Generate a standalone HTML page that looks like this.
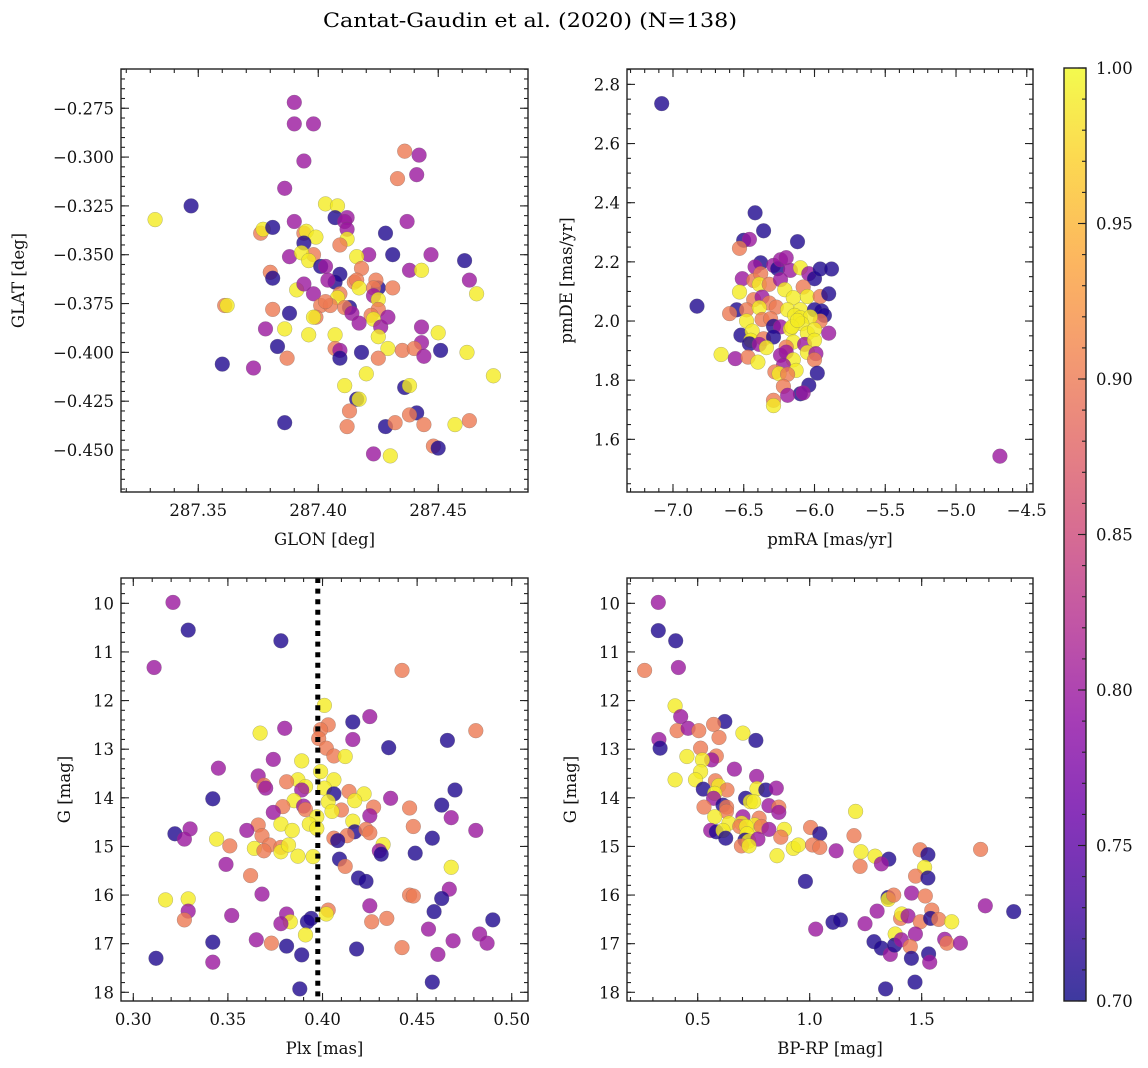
<!DOCTYPE html>
<html><head><meta charset="utf-8"><style>
html,body{margin:0;padding:0;background:#fff;}
svg{display:block;font-family:"DejaVu Serif","Liberation Serif",serif;}
</style></head><body>
<svg id="fig" width="1148" height="1068" viewBox="0 0 1148 1068" xmlns="http://www.w3.org/2000/svg">
<defs>
<linearGradient id="cbgrad" x1="0" y1="1" x2="0" y2="0">
<stop offset="0" stop-color="#0d0887"/><stop offset="0.1" stop-color="#41049d"/><stop offset="0.2" stop-color="#6a00a8"/><stop offset="0.3" stop-color="#8f0da4"/><stop offset="0.4" stop-color="#b12a90"/><stop offset="0.5" stop-color="#cc4778"/><stop offset="0.6" stop-color="#e16462"/><stop offset="0.7" stop-color="#f2844b"/><stop offset="0.8" stop-color="#fca636"/><stop offset="0.9" stop-color="#fcce25"/><stop offset="1" stop-color="#f0f921"/>
</linearGradient>
</defs>
<text x="530" y="27" text-anchor="middle" font-size="20" textLength="414" lengthAdjust="spacingAndGlyphs">Cantat-Gaudin et al. (2020) (N=138)</text>
</svg>
<script>
const P1_GLON=[287.390,287.390,287.398,287.394,287.436,287.442,287.441,287.433,287.386,287.347,287.332,287.403,287.408,287.407,287.412,287.411,287.437,287.390,287.376,287.377,287.381,287.394,287.395,287.399,287.412,287.412,287.409,287.394,287.428,287.431,287.421,287.416,287.447,287.388,287.398,287.393,287.396,287.401,287.403,287.409,287.407,287.404,287.418,287.438,287.443,287.461,287.463,287.466,287.380,287.381,287.391,287.394,287.398,287.415,287.416,287.417,287.425,287.424,287.431,287.423,287.409,287.408,287.361,287.362,287.381,287.388,287.401,287.405,287.403,287.413,287.411,287.414,287.423,287.425,287.425,287.422,287.423,287.426,287.429,287.399,287.398,287.417,287.378,287.386,287.396,287.407,287.425,287.443,287.450,287.443,287.383,287.407,287.409,287.429,287.435,287.440,287.451,287.462,287.387,287.409,287.418,287.425,287.444,287.360,287.373,287.420,287.473,287.411,287.436,287.438,287.416,287.417,287.413,287.441,287.438,287.386,287.412,287.428,287.432,287.444,287.457,287.463,287.448,287.450,287.423,287.430];
const P1_GLAT=[-0.272,-0.283,-0.283,-0.302,-0.297,-0.299,-0.309,-0.311,-0.316,-0.325,-0.332,-0.324,-0.325,-0.331,-0.331,-0.333,-0.333,-0.333,-0.339,-0.337,-0.336,-0.339,-0.338,-0.341,-0.337,-0.342,-0.345,-0.344,-0.339,-0.350,-0.350,-0.351,-0.350,-0.351,-0.350,-0.349,-0.353,-0.356,-0.356,-0.360,-0.364,-0.363,-0.357,-0.358,-0.358,-0.353,-0.363,-0.370,-0.359,-0.362,-0.368,-0.365,-0.370,-0.364,-0.363,-0.367,-0.367,-0.363,-0.367,-0.367,-0.370,-0.372,-0.376,-0.376,-0.378,-0.380,-0.376,-0.376,-0.374,-0.377,-0.377,-0.380,-0.371,-0.373,-0.378,-0.381,-0.383,-0.387,-0.382,-0.382,-0.382,-0.385,-0.388,-0.388,-0.391,-0.391,-0.392,-0.387,-0.390,-0.395,-0.397,-0.398,-0.399,-0.398,-0.399,-0.398,-0.399,-0.400,-0.403,-0.403,-0.400,-0.403,-0.402,-0.406,-0.408,-0.411,-0.412,-0.417,-0.418,-0.417,-0.424,-0.424,-0.430,-0.431,-0.432,-0.436,-0.438,-0.438,-0.436,-0.437,-0.437,-0.435,-0.448,-0.449,-0.452,-0.453];
const P1_PROB=[0.80,0.80,0.80,0.80,0.90,0.80,0.80,0.90,0.80,0.71,0.99,0.99,0.99,0.71,0.80,0.80,0.80,0.80,0.90,0.99,0.71,0.90,0.99,0.99,0.80,0.99,0.90,0.71,0.71,0.71,0.80,0.99,0.80,0.80,0.90,0.99,0.99,0.71,0.80,0.71,0.71,0.80,0.90,0.80,0.99,0.71,0.80,0.99,0.90,0.71,0.99,0.80,0.80,0.90,0.90,0.99,0.71,0.90,0.90,0.90,0.90,0.99,0.90,0.99,0.90,0.71,0.90,0.90,0.90,0.71,0.90,0.80,0.80,0.99,0.90,0.90,0.99,0.80,0.80,0.90,0.99,0.80,0.80,0.99,0.99,0.99,0.99,0.80,0.99,0.80,0.71,0.90,0.80,0.99,0.90,0.90,0.71,0.99,0.90,0.71,0.71,0.90,0.80,0.71,0.80,0.99,0.99,0.99,0.71,0.99,0.71,0.99,0.90,0.71,0.90,0.71,0.90,0.71,0.90,0.90,0.99,0.90,0.90,0.71,0.80,0.99];

const P2_PMRA=[-7.08,-6.83,-4.69,-6.42,-6.36,-6.50,-6.46,-6.53,-6.12,-6.38,-6.42,-6.29,-6.26,-6.24,-6.20,-6.17,-6.10,-6.04,-6.00,-5.96,-5.88,-6.51,-6.43,-6.38,-6.39,-6.32,-6.24,-6.53,-6.21,-6.08,-6.15,-6.05,-5.96,-5.90,-6.43,-6.37,-6.32,-6.55,-6.60,-6.48,-6.39,-6.27,-6.19,-6.10,-6.00,-5.95,-5.93,-5.96,-6.48,-6.37,-6.31,-6.14,-6.10,-6.03,-6.29,-6.24,-6.17,-6.09,-6.05,-6.00,-5.90,-6.52,-6.44,-6.45,-6.36,-6.29,-6.15,-6.07,-6.00,-6.46,-6.39,-6.34,-6.20,-6.66,-6.56,-6.47,-6.40,-6.24,-6.20,-6.05,-5.99,-6.00,-6.15,-6.22,-6.13,-6.28,-6.25,-6.19,-6.22,-5.98,-6.04,-6.10,-6.08,-6.29,-6.29,-6.19,-6.16,-6.12];
const P2_PMDE=[2.735,2.050,1.543,2.366,2.305,2.273,2.276,2.246,2.268,2.197,2.183,2.188,2.177,2.207,2.214,2.171,2.180,2.160,2.143,2.176,2.176,2.143,2.137,2.160,2.124,2.124,2.140,2.098,2.106,2.115,2.079,2.083,2.083,2.092,2.072,2.081,2.061,2.038,2.025,2.038,2.045,2.047,2.038,2.038,2.038,2.034,2.019,2.000,2.000,2.005,2.008,2.019,2.011,2.014,1.982,1.980,1.973,1.991,1.959,1.971,1.959,1.952,1.966,1.935,1.940,1.946,1.929,1.921,1.935,1.923,1.921,1.910,1.912,1.887,1.873,1.878,1.861,1.884,1.895,1.894,1.890,1.869,1.869,1.850,1.833,1.828,1.822,1.820,1.779,1.824,1.783,1.754,1.757,1.732,1.714,1.749,1.980,2.002];
const P2_PROB=[0.71,0.71,0.80,0.71,0.71,0.71,0.80,0.90,0.71,0.71,0.80,0.80,0.71,0.80,0.80,0.80,0.99,0.80,0.71,0.71,0.71,0.80,0.90,0.90,0.99,0.90,0.80,0.99,0.99,0.90,0.99,0.99,0.90,0.71,0.90,0.80,0.90,0.71,0.90,0.90,0.99,0.90,0.99,0.99,0.71,0.71,0.71,0.90,0.99,0.90,0.90,0.99,0.99,0.99,0.71,0.80,0.99,0.99,0.99,0.99,0.80,0.71,0.99,0.99,0.90,0.71,0.99,0.80,0.99,0.71,0.80,0.99,0.90,0.99,0.80,0.90,0.99,0.80,0.80,0.99,0.80,0.90,0.99,0.80,0.99,0.90,0.99,0.90,0.90,0.71,0.71,0.71,0.80,0.90,0.99,0.80,0.99,0.99];

const P3_PLX=[0.321,0.329,0.378,0.311,0.442,0.401,0.425,0.416,0.403,0.380,0.399,0.481,0.367,0.398,0.416,0.466,0.435,0.402,0.406,0.412,0.374,0.389,0.345,0.399,0.366,0.387,0.381,0.406,0.369,0.370,0.391,0.389,0.401,0.406,0.414,0.422,0.470,0.342,0.436,0.385,0.403,0.417,0.390,0.379,0.391,0.410,0.405,0.427,0.446,0.463,0.374,0.397,0.425,0.416,0.468,0.366,0.378,0.393,0.397,0.384,0.448,0.322,0.330,0.327,0.360,0.368,0.344,0.417,0.423,0.425,0.413,0.406,0.408,0.481,0.458,0.351,0.372,0.364,0.369,0.378,0.378,0.382,0.387,0.395,0.432,0.430,0.431,0.449,0.409,0.412,0.349,0.468,0.362,0.419,0.423,0.368,0.446,0.448,0.467,0.463,0.317,0.329,0.329,0.327,0.352,0.425,0.459,0.381,0.383,0.378,0.394,0.392,0.403,0.402,0.426,0.434,0.490,0.456,0.391,0.342,0.365,0.373,0.381,0.483,0.469,0.487,0.389,0.418,0.442,0.461,0.312,0.342,0.388,0.458];
const P3_G=[9.98,10.55,10.77,11.32,11.38,12.10,12.33,12.44,12.50,12.57,12.60,12.62,12.67,12.78,12.80,12.82,12.97,12.98,13.14,13.15,13.21,13.24,13.39,13.46,13.55,13.63,13.67,13.63,13.74,13.80,13.77,13.84,13.80,13.92,13.87,13.92,13.84,14.02,14.01,14.06,14.08,14.06,14.17,14.18,14.24,14.25,14.28,14.19,14.21,14.15,14.30,14.39,14.37,14.48,14.41,14.56,14.54,14.54,14.63,14.67,14.59,14.74,14.64,14.85,14.67,14.78,14.85,14.70,14.65,14.72,14.78,14.83,14.88,14.67,14.83,14.99,14.97,15.04,15.09,15.02,15.11,14.97,15.20,15.21,14.96,15.09,15.16,15.14,15.26,15.41,15.37,15.43,15.60,15.65,15.72,15.98,16.00,16.02,15.88,16.07,16.10,16.08,16.33,16.51,16.42,16.22,16.34,16.39,16.55,16.59,16.48,16.55,16.31,16.39,16.55,16.48,16.51,16.70,16.82,16.97,16.92,16.99,17.05,16.80,16.94,16.99,17.23,17.11,17.08,17.22,17.30,17.38,17.93,17.79];
const P3_PROB=[0.80,0.71,0.71,0.80,0.90,0.99,0.80,0.71,0.90,0.80,0.90,0.90,0.99,0.90,0.80,0.71,0.71,0.90,0.90,0.99,0.80,0.99,0.80,0.99,0.80,0.99,0.90,0.99,0.90,0.80,0.99,0.80,0.99,0.71,0.90,0.99,0.71,0.71,0.80,0.99,0.99,0.99,0.80,0.90,0.90,0.90,0.99,0.90,0.90,0.71,0.80,0.99,0.80,0.99,0.80,0.90,0.99,0.99,0.99,0.99,0.90,0.71,0.80,0.80,0.80,0.90,0.99,0.71,0.90,0.90,0.90,0.90,0.71,0.80,0.71,0.90,0.90,0.99,0.90,0.90,0.99,0.99,0.99,0.99,0.99,0.80,0.71,0.71,0.71,0.90,0.80,0.99,0.90,0.71,0.71,0.80,0.90,0.90,0.80,0.71,0.99,0.99,0.80,0.90,0.80,0.80,0.71,0.80,0.99,0.80,0.71,0.71,0.90,0.99,0.90,0.90,0.71,0.80,0.99,0.71,0.80,0.90,0.71,0.80,0.80,0.80,0.71,0.71,0.90,0.80,0.71,0.80,0.71,0.71];

const P4_BPRP=[0.324,0.324,0.402,0.263,0.414,0.399,0.424,0.621,0.408,0.457,0.505,0.571,0.595,0.702,0.760,0.327,0.332,0.513,0.452,0.583,0.562,0.521,0.513,0.664,0.399,0.490,0.579,0.594,0.763,0.525,0.631,0.576,0.571,0.765,0.804,0.851,0.714,0.735,0.750,0.613,0.629,0.628,0.528,0.818,0.862,0.862,1.205,0.576,0.702,0.774,0.640,0.696,0.688,0.754,0.784,0.818,0.887,0.558,0.583,0.613,0.625,0.717,0.720,0.711,0.728,0.769,0.871,0.695,0.729,1.004,1.045,0.927,0.949,1.013,1.045,0.854,1.118,1.198,1.229,1.225,1.292,1.353,1.320,0.981,1.493,1.528,1.513,1.473,1.528,1.763,1.784,1.911,1.350,1.351,1.375,1.455,1.516,1.301,1.104,1.137,1.247,1.027,1.406,1.411,1.439,1.494,1.545,1.540,1.576,1.634,1.287,1.320,1.360,1.382,1.379,1.409,1.472,1.449,1.454,1.531,1.536,1.603,1.613,1.673,1.339,1.470];
const P4_G=[9.98,10.56,10.77,11.38,11.32,12.11,12.33,12.43,12.62,12.57,12.62,12.49,12.76,12.67,12.82,12.80,12.98,12.98,13.15,13.14,13.22,13.22,13.46,13.41,13.63,13.63,13.65,13.75,13.56,13.82,13.84,13.91,14.01,13.81,13.84,13.80,14.01,14.08,14.08,14.15,14.19,14.28,14.19,14.16,14.19,14.30,14.28,14.39,14.39,14.42,14.52,14.52,14.59,14.56,14.59,14.65,14.65,14.67,14.70,14.67,14.83,14.59,14.74,14.87,14.89,14.85,14.81,14.99,14.99,14.61,14.74,15.04,14.97,14.97,15.02,15.19,15.09,14.78,15.11,15.41,15.20,15.26,15.36,15.72,15.07,15.17,15.43,15.61,15.65,15.06,16.22,16.34,16.05,16.09,16.00,15.96,16.02,16.33,16.56,16.51,16.59,16.70,16.48,16.39,16.43,16.55,16.31,16.48,16.50,16.55,16.96,17.09,17.22,16.80,17.03,16.92,16.80,17.06,17.30,17.21,17.38,16.91,16.99,16.99,17.93,17.79];
const P4_PROB=[0.80,0.71,0.71,0.90,0.80,0.99,0.80,0.71,0.90,0.80,0.90,0.90,0.90,0.99,0.71,0.80,0.71,0.90,0.99,0.90,0.80,0.99,0.99,0.80,0.99,0.99,0.90,0.99,0.80,0.71,0.90,0.99,0.80,0.99,0.71,0.80,0.71,0.99,0.99,0.71,0.90,0.90,0.90,0.80,0.90,0.80,0.99,0.99,0.80,0.90,0.99,0.99,0.90,0.99,0.90,0.80,0.99,0.80,0.71,0.99,0.71,0.99,0.99,0.71,0.99,0.80,0.90,0.90,0.99,0.90,0.71,0.99,0.99,0.90,0.90,0.99,0.80,0.90,0.99,0.90,0.99,0.71,0.80,0.71,0.90,0.71,0.99,0.90,0.71,0.90,0.80,0.71,0.71,0.99,0.90,0.80,0.90,0.80,0.71,0.71,0.80,0.80,0.90,0.99,0.80,0.90,0.90,0.71,0.90,0.99,0.71,0.71,0.80,0.99,0.71,0.80,0.80,0.90,0.71,0.71,0.80,0.80,0.90,0.80,0.71,0.71];

const PLX_CUT=[0.3975];
const CB_TICKS=[0.70,0.75,0.80,0.85,0.90,0.95,1.00];

const NS='http://www.w3.org/2000/svg';
const svg=document.getElementById('fig');
const STOPS=['#0d0887','#41049d','#6a00a8','#8f0da4','#b12a90','#cc4778','#e16462','#f2844b','#fca636','#fcce25','#f0f921'];
function hex(c){return [parseInt(c.substr(1,2),16),parseInt(c.substr(3,2),16),parseInt(c.substr(5,2),16)];}
function cmap(v){let t=(v-0.7)/0.3;t=Math.max(0,Math.min(1,t));const f=t*10;const i=Math.min(9,Math.floor(f));const u=f-i;const a=hex(STOPS[i]),b=hex(STOPS[i+1]);return 'rgb('+a.map((x,k)=>Math.round(x+(b[k]-x)*u)).join(',')+')';}
function mk(tag,attrs,parent){const e=document.createElementNS(NS,tag);for(const k in attrs)e.setAttribute(k,attrs[k]);(parent||svg).appendChild(e);return e;}
function fmt(v,d){const s=Math.abs(v).toFixed(d);return (v<-1e-9?'\u2212':'')+s;}

function panel(cfg){
  const g=mk('g',{});
  
  
  const L=cfg.box[0],T=cfg.box[1],R=cfg.box[2],B=cfg.box[3];
  const sx=v=>L+(v-cfg.xlim[0])/(cfg.xlim[1]-cfg.xlim[0])*(R-L);
  const sy=v=>cfg.yinv? T+(v-cfg.ylim[0])/(cfg.ylim[1]-cfg.ylim[0])*(B-T) : B-(v-cfg.ylim[0])/(cfg.ylim[1]-cfg.ylim[0])*(B-T);
  const clip=mk('clipPath',{id:'clip-'+cfg.name},g);
  mk('rect',{x:L,y:T,width:R-L,height:B-T},clip);
  const pts=mk('g',{'clip-path':'url(#clip-'+cfg.name+')'},g);
  
  
  for(let i=0;i<cfg.x.length;i++){
    const c=mk('circle',{cx:sx(cfg.x[i]).toFixed(1),cy:sy(cfg.y[i]).toFixed(1),r:7.4,fill:cmap(cfg.c[i]),'fill-opacity':0.8,stroke:'#666','stroke-width':0.4,'stroke-opacity':0.6},pts);
    
    
  }
  if(cfg.vline){
    const ln=mk('line',{x1:sx(cfg.vline[0]),x2:sx(cfg.vline[0]),y1:T,y2:B,stroke:'#000','stroke-width':5,'stroke-dasharray':'5,5.6'},pts);
    
    
  }
  const ax=mk('g',{stroke:'#222','stroke-width':1.1},g);
  
  
  const eps=1e-9;
  function ticks(lim,step,cb){const a=Math.ceil(Math.min(lim[0],lim[1])/step-eps),b=Math.floor(Math.max(lim[0],lim[1])/step+eps);for(let k=a;k<=b;k++)cb(k*step);}
  ticks(cfg.xlim,cfg.xminor,v=>{const x=sx(v);mk('line',{x1:x,x2:x,y1:B,y2:B-4},ax);mk('line',{x1:x,x2:x,y1:T,y2:T+4},ax);});
  ticks(cfg.ylim,cfg.yminor,v=>{const y=sy(v);mk('line',{x1:L,x2:L+4,y1:y,y2:y},ax);mk('line',{x1:R,x2:R-4,y1:y,y2:y},ax);});
  ticks(cfg.xlim,cfg.xmajor,v=>{const x=sx(v);mk('line',{x1:x,x2:x,y1:B,y2:B-8},ax);mk('line',{x1:x,x2:x,y1:T,y2:T+8},ax);
    const t=mk('text',{x:x,y:B+24,'text-anchor':'middle','font-size':16.5,fill:'#111',stroke:'none'},g);t.textContent=fmt(v,cfg.xdec);
    
    });
  ticks(cfg.ylim,cfg.ymajor,v=>{const y=sy(v);mk('line',{x1:L,x2:L+8,y1:y,y2:y},ax);mk('line',{x1:R,x2:R-8,y1:y,y2:y},ax);
    const t=mk('text',{x:L-7,y:y+6,'text-anchor':'end','font-size':16.5,fill:'#111',stroke:'none'},g);t.textContent=fmt(v,cfg.ydec);
    
    });
  const fr=mk('rect',{x:L,y:T,width:R-L,height:B-T,fill:'none',stroke:'#222','stroke-width':1.4},g);
  
  
  const xl=mk('text',{x:(L+R)/2,y:B+53,'text-anchor':'middle','font-size':16.5,fill:'#111'},g);xl.textContent=cfg.xlabel;
  
  
  const yx=cfg.ylx,yy=(T+B)/2;
  const yl=mk('text',{x:yx,y:yy,'text-anchor':'middle','font-size':16.5,fill:'#111',transform:'rotate(-90 '+yx+' '+yy+')'},g);yl.textContent=cfg.ylabel;
  
  
}

panel({name:'glon-glat-panel',box:[121,69,528,492],x:P1_GLON,y:P1_GLAT,c:P1_PROB,xlim:[287.3178,287.4874],ylim:[-0.4715,-0.2549],xmajor:0.05,xminor:0.01,ymajor:0.025,yminor:0.005,xdec:2,ydec:3,xlabel:'GLON [deg]',ylabel:'GLAT [deg]',ylx:24});
panel({name:'proper-motion-panel',box:[627,69,1033,492],x:P2_PMRA,y:P2_PMDE,c:P2_PROB,xlim:[-7.325,-4.456],ylim:[1.422,2.852],xmajor:0.5,xminor:0.1,ymajor:0.2,yminor:0.05,xdec:1,ydec:1,xlabel:'pmRA [mas/yr]',ylabel:'pmDE [mas/yr]',ylx:572});
panel({name:'plx-g-panel',box:[121,578,528,1001],x:P3_PLX,y:P3_G,c:P3_PROB,xlim:[0.2935,0.5086],ylim:[9.479,18.179],yinv:true,xmajor:0.05,xminor:0.01,ymajor:1,yminor:0.2,xdec:2,ydec:0,xlabel:'Plx [mas]',ylabel:'G [mag]',ylx:70,vline:PLX_CUT});
panel({name:'cmd-panel',box:[627,578,1033,1001],x:P4_BPRP,y:P4_G,c:P4_PROB,xlim:[0.1844,1.997],ylim:[9.479,18.179],yinv:true,xmajor:0.5,xminor:0.1,ymajor:1,yminor:0.2,xdec:1,ydec:0,xlabel:'BP-RP [mag]',ylabel:'G [mag]',ylx:576});

(function(){
  const L=1064,R=1086,T=68,B=1001;
  const g=mk('g',{});
  
  
  const r=mk('rect',{x:L,y:T,width:R-L,height:B-T,fill:'url(#cbgrad)','fill-opacity':0.8},g);
  
  
  const sy=v=>B-(v-0.7)/0.3*(B-T);
  for(let k=70;k<=100;k++){const y=sy(k/100);mk('line',{x1:R,x2:R-4,y1:y,y2:y,stroke:'#222','stroke-width':1.1},g);}
  CB_TICKS.forEach(v=>{const y=sy(v);mk('line',{x1:R,x2:R-8,y1:y,y2:y,stroke:'#222','stroke-width':1.1},g);
    const t=mk('text',{x:R+10,y:y+6,'font-size':16.5,fill:'#111'},g);t.textContent=v.toFixed(2);
    
    });
  mk('rect',{x:L,y:T,width:R-L,height:B-T,fill:'none',stroke:'#222','stroke-width':1.4},g);
})();
</script>
</body></html>
